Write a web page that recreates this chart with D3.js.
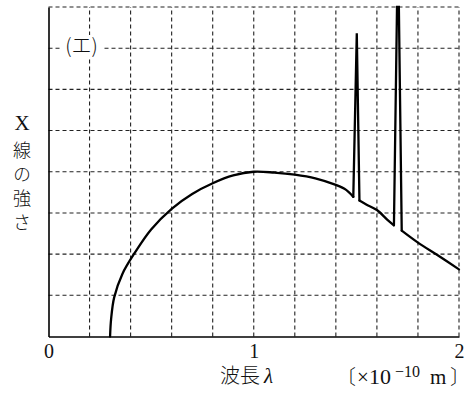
<!DOCTYPE html>
<html>
<head>
<meta charset="utf-8">
<script src="https://cdn.jsdelivr.net/npm/d3@7"></script>
<style>
  html, body { margin: 0; padding: 0; background: #fff; }
  svg { display: block; }
</style>
</head>
<body>
<script>
// X-ray spectrum: continuous spectrum plus two characteristic lines
const wavelength = [0.30, 0.305, 0.32, 0.36, 0.42, 0.50, 0.60, 0.70, 0.80, 0.90, 1.00, 1.10, 1.20, 1.30, 1.40, 1.45, 1.485,
                    1.502,
                    1.515, 1.55, 1.60, 1.65, 1.683,
                    1.698, 1.707,
                    1.721, 1.80, 1.90, 2.00];
const intensity  = [0, 0.42, 0.95, 1.52, 2.03, 2.60, 3.10, 3.46, 3.72, 3.91, 4.0, 3.98, 3.93, 3.84, 3.68, 3.56, 3.39,
                    7.36,
                    3.30, 3.20, 3.07, 2.84, 2.70,
                    8.0, 8.0,
                    2.57, 2.28, 1.96, 1.63];
// indices of the characteristic line tops (drawn as straight spikes)
const linePeaks = [17, 23, 24];

const xTicks = [0, 1, 2];
const xGrid = d3.range(0, 2.0001, 0.2);
const yGrid = d3.range(0, 8.0001, 1);
const panelLabel = "(エ)";

const W = 471, H = 405;
const svg = d3.select("body").append("svg").attr("width", W).attr("height", H);

const x = d3.scaleLinear().domain([0, 2]).range([48.5, 459]);
const y = d3.scaleLinear().domain([0, 8]).range([336.5, 7]);

// dashed grid (including top and right edges)
const grid = svg.append("g").attr("stroke", "#222").attr("stroke-width", 1.1)
  .attr("stroke-dasharray", "4,3").attr("fill", "none");
grid.selectAll("line.v").data(xGrid.slice(1)).join("line").attr("class", "v")
  .attr("x1", d => x(d)).attr("x2", d => x(d))
  .attr("y1", y(0)).attr("y2", y(8));
grid.selectAll("line.h").data(yGrid.slice(1)).join("line").attr("class", "h")
  .attr("x1", x(0)).attr("x2", x(2))
  .attr("y1", d => y(d)).attr("y2", d => y(d));

// solid axes
const xAxis = d3.axisBottom(x).tickValues(xTicks).tickSize(0).tickFormat(d3.format("d"));
const gx = svg.append("g").attr("transform", `translate(0,${y(0)})`).call(xAxis);
gx.select(".domain").attr("stroke", "#000").attr("stroke-width", 1.6);
gx.selectAll("text").attr("dy", "0.55em").attr("y", 10)
  .attr("font-family", "'Liberation Serif', serif").attr("font-size", 20).attr("fill", "#111");

const yAxis = d3.axisLeft(y).tickValues([]).tickSize(0);
const gy = svg.append("g").attr("transform", `translate(${x(0)},0)`).call(yAxis);
gy.select(".domain").attr("stroke", "#000").attr("stroke-width", 1.6);

// spectrum: smooth continuum runs, straight characteristic spikes
const pts = wavelength.map((w, i) => [w, intensity[i]]);
const isPeak = new Set(linePeaks);
const runs = [];
for (let i = 0; i < pts.length - 1; i++) {
  const straight = isPeak.has(i) || isPeak.has(i + 1);
  const last = runs[runs.length - 1];
  if (last && last.straight === straight) last.idx.push(i + 1);
  else runs.push({ straight, idx: [i, i + 1] });
}
const smoothLine = d3.line().x(d => x(d[0])).y(d => y(d[1])).curve(d3.curveCatmullRom.alpha(0.5));
const straightLine = d3.line().x(d => x(d[0])).y(d => y(d[1])).curve(d3.curveLinear);
const spec = svg.append("g").attr("fill", "none").attr("stroke", "#000")
  .attr("stroke-width", 2.3).attr("stroke-linejoin", "miter").attr("stroke-linecap", "round");
runs.forEach(r => {
  const data = r.idx.map(i => pts[i]);
  spec.append("path").attr("d", (r.straight ? straightLine : smoothLine)(data));
});

// panel label with white backing over the grid
svg.append("rect").attr("x", 60).attr("y", 35).attr("width", 43).attr("height", 24).attr("fill", "#fff");
svg.append("text").attr("x", 81.5).attr("y", 46).attr("dy", "0.36em").attr("text-anchor", "middle")
  .attr("font-family", "'Noto Sans CJK JP', sans-serif").attr("font-size", 20).attr("font-weight", 300)
  .attr("fill", "#111").text(panelLabel);

// vertical axis title, written top to bottom
const yTitle = svg.append("text").attr("x", 22).attr("y", 111)
  .attr("writing-mode", "vertical-rl")
  .style("text-orientation", "upright")
  .style("letter-spacing", "6px")
  .attr("font-family", "'Noto Sans CJK JP', sans-serif").attr("font-size", 18).attr("font-weight", 300)
  .attr("fill", "#111");
yTitle.append("tspan").attr("font-family", "'Liberation Serif', serif").attr("font-size", 21).text("X");
yTitle.append("tspan").text("線の強さ");

// horizontal axis title and unit
const xTitle = svg.append("text").attr("x", 220).attr("y", 376).attr("dy", "0.36em")
  .attr("font-family", "'Noto Sans CJK JP', sans-serif").attr("font-size", 20).attr("font-weight", 300)
  .attr("fill", "#111");
xTitle.append("tspan").text("波長");
xTitle.append("tspan").attr("font-family", "'Liberation Serif', serif").attr("font-style", "italic")
  .attr("font-size", 21).attr("dx", 4).text("λ");

const unit = svg.append("text").attr("y", 376).attr("dy", "0.36em")
  .attr("font-family", "'Liberation Serif', serif").attr("font-size", 21).attr("fill", "#111");
unit.append("tspan").attr("x", 336).attr("font-family", "'Noto Sans CJK JP', sans-serif")
  .attr("font-size", 20).attr("font-weight", 300).text("〔");
unit.append("tspan").attr("x", 357).text("×");
unit.append("tspan").attr("x", 369).attr("font-size", 22).text("10");
unit.append("tspan").attr("x", 395).attr("font-size", 16).attr("dy", -7).text("−10");
unit.append("tspan").attr("x", 430).attr("dy", 7).text("m");
unit.append("tspan").attr("x", 450).attr("font-family", "'Noto Sans CJK JP', sans-serif")
  .attr("font-size", 20).attr("font-weight", 300).text("〕");
</script>
</body>
</html>
